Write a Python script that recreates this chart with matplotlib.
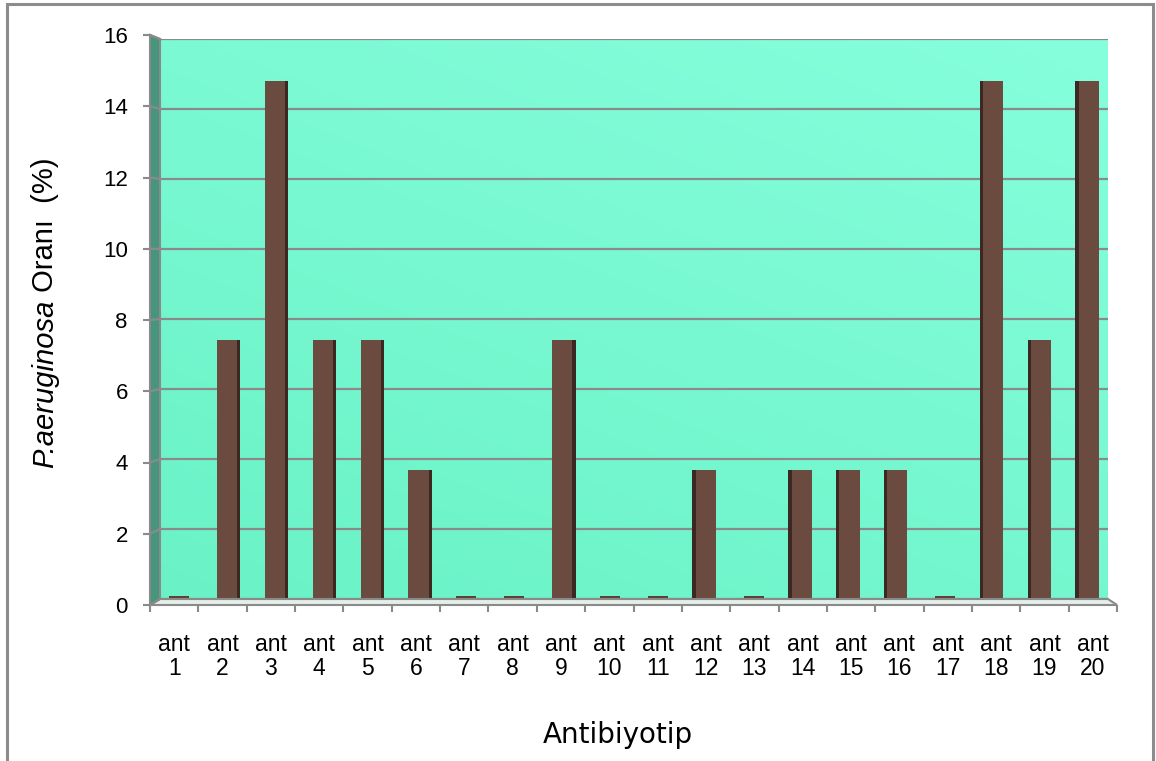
import numpy as np
import matplotlib
matplotlib.use("Agg")
import matplotlib.pyplot as plt
from matplotlib.patches import Polygon, Rectangle

# ---- data ----
categories = [f"ant\n{i}" for i in range(1, 21)]
values = [0, 7.4, 14.8, 7.4, 7.4, 3.7, 0, 0, 7.4, 0,
          0, 3.7, 0, 3.7, 3.7, 3.7, 0, 14.8, 7.4, 14.8]
yticks = [0, 2, 4, 6, 8, 10, 12, 14, 16]
xlabel = "Antibiyotip"
ylabel_italic = "P.aeruginosa"
ylabel_rest = " Oranı  (%)"

plt.rcParams['font.family'] = ['Liberation Sans', 'DejaVu Sans']

W, H = 1156, 761
fig = plt.figure(figsize=(W / 100, H / 100), dpi=100)

# back wall axes
ax_back = fig.add_axes([160 / W, (H - 599) / H, 948 / W, 560 / H])
n = len(values)
ax_back.set_xlim(-0.4, n - 0.6)
ax_back.set_ylim(0, 16)
ax_back.axis('off')

# gradient wall
gy, gx = np.mgrid[0:1:200j, 0:1:200j]
t = np.clip(0.6 * gy + 0.4 * gx, 0, 1)  # gy=0 bottom
c0 = np.array([106, 242, 198]) / 255
c1 = np.array([134, 255, 220]) / 255
img = c0[None, None, :] * (1 - t[..., None]) + c1[None, None, :] * t[..., None]
ax_back.imshow(img, extent=[-0.4, n - 0.6, 0, 16], origin='lower', aspect='auto', zorder=0)
for v in yticks:
    ax_back.axhline(v, color='#8a8a8a', lw=1.6, zorder=1)

x = np.arange(n)
bw = 0.42
sw = 0.07
vals = np.array(values)
ax_back.bar(x, vals, width=bw, color='#6b4a40', zorder=3, linewidth=0)
# side faces (toward centre)
side_x = np.where(x < 9.5, x + bw / 2 + sw / 2, x - bw / 2 - sw / 2)
ax_back.bar(side_x, vals, width=sw, color='#3c2822', zorder=3, linewidth=0)
# flat slabs for zero-valued columns
cap = np.where(vals == 0, 0.09, 0.0)
ax_back.bar(x, cap, bottom=vals, width=bw, color='#5e3e35', zorder=3, linewidth=0)

# front axes (ticks / labels)
ax = fig.add_axes([150 / W, (H - 605) / H, 967 / W, 570 / H])
ax.set_xlim(0, n)
ax.set_ylim(0, 16)
ax.patch.set_alpha(0)
for s in ax.spines.values():
    s.set_visible(False)
ax.set_yticks(yticks)
ax.set_yticklabels([str(v) for v in yticks], fontsize=16)
ax.set_xticks(np.arange(0, n + 1))
ax.set_xticklabels([])
ax.set_xticks(np.arange(n) + 0.5, minor=True)
ax.set_xticklabels(categories, minor=True, fontsize=16.5, linespacing=1.05)
ax.tick_params(axis='y', direction='out', length=5, width=1.5, color='#8a8a8a', pad=11)
ax.tick_params(axis='x', which='major', direction='out', length=5, width=1.5, color='#8a8a8a')
ax.tick_params(axis='x', which='minor', length=0, pad=20)

def back_to_front(px, py):
    d = ax_back.transData.transform((px, py))
    return ax.transData.inverted().transform(d)

xl, xr = -0.4, n - 0.6
# left wall
wall = [(0, 0), (0, 16), tuple(back_to_front(xl, 16)), tuple(back_to_front(xl, 0))]
ax.add_patch(Polygon(wall, closed=True, facecolor='#46967d', edgecolor='#8a8a8a',
                     lw=1.5, clip_on=False, zorder=1))
for v in yticks:
    bx, by = back_to_front(xl, v)
    ax.plot([0, bx], [v, by], color='#8a8a8a', lw=1.6, clip_on=False, zorder=2)
# floor
floor = [(0, 0), (n, 0), tuple(back_to_front(xr, 0)), tuple(back_to_front(xl, 0))]
ax.add_patch(Polygon(floor, closed=True, facecolor='#e4efea', edgecolor='#8a8a8a',
                     lw=1.5, clip_on=False, zorder=1))

fig.text(618 / W, 1 - 735 / H, xlabel, ha='center', va='center', fontsize=20,
         family='DejaVu Sans')

# y label: italic species name + regular remainder
renderer = fig.canvas.get_renderer()
y0 = (H - 468) / H
t1 = fig.text(45 / W, y0, ylabel_italic, ha='center', va='bottom', rotation=90,
              fontsize=21, style='italic')
bb = t1.get_window_extent(renderer=renderer)
y1 = fig.transFigure.inverted().transform((0, bb.y1))[1]
fig.text(45 / W, y1, ylabel_rest, ha='center', va='bottom', rotation=90, fontsize=21)

# outer border
fig.add_artist(Rectangle((7 / W, -0.02), (1153 - 7) / W, (H - 4) / H + 0.02,
                         transform=fig.transFigure, fill=False, edgecolor='#8c8c8c', lw=2.2))

fig.savefig("out.png", dpi=100, facecolor='white')
